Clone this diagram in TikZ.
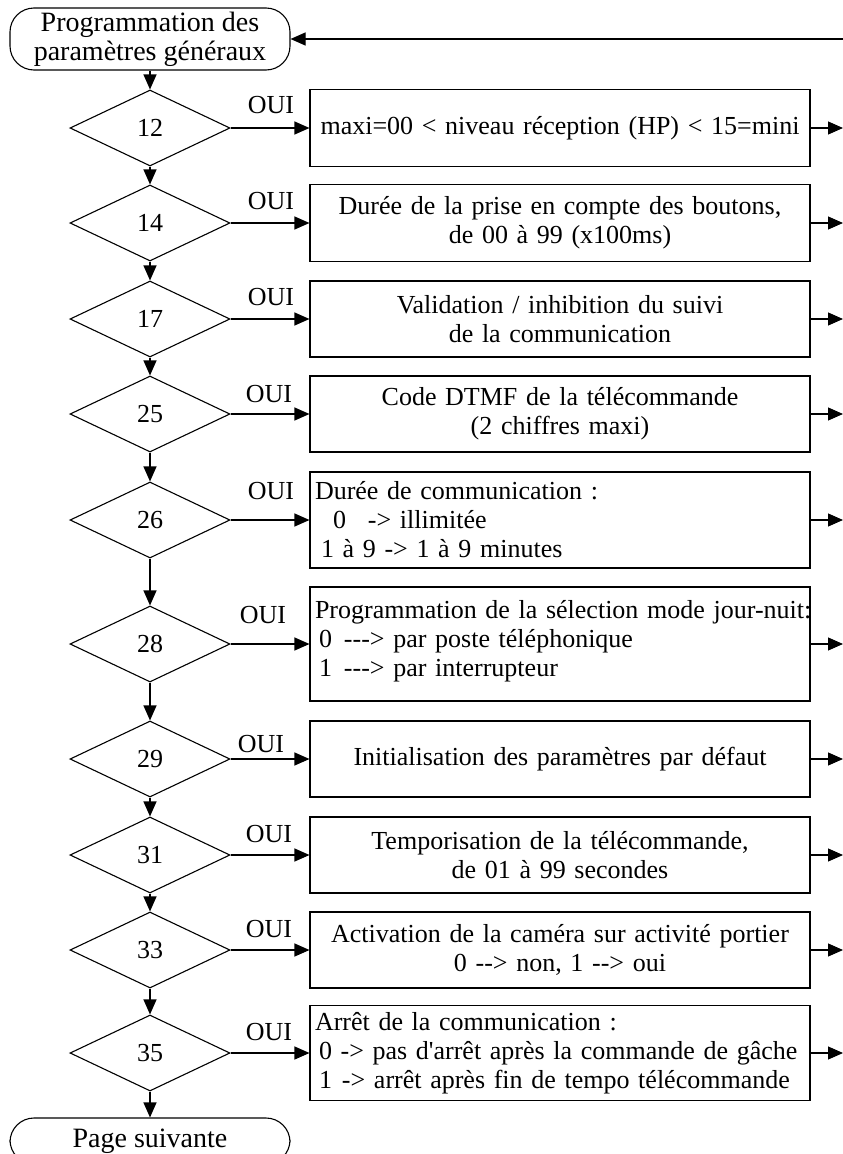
\documentclass[tikz,border=0pt]{standalone}
\usepackage{fontspec}
\setmainfont{Liberation Serif}[Ligatures=TeXOff]
\usetikzlibrary{arrows.meta,shapes.geometric}

\begin{document}
\begin{tikzpicture}[x=1pt,y=-1pt,line width=1.1pt,
  font=\fontsize{26}{29}\selectfont,
  decision/.style={draw,diamond,minimum width=160pt,minimum height=76pt,inner sep=0pt},
  action/.style={draw,rectangle,minimum width=500pt,text width=490pt,inner xsep=5pt,inner ysep=0pt},
  terminal/.style={draw,rectangle,rounded corners=24pt,minimum width=280pt,align=center,inner sep=0pt,
    font=\fontsize{28}{29}\selectfont},
  oui/.style={anchor=base,font=\fontsize{26}{29}\selectfont},
  arr/.style={-{Triangle[length=15pt,width=13pt]}}]
\useasboundingbox (0,0) rectangle (843,1154);
\coordinate (redge) at (843,0);

% Start and end
\node[terminal,minimum height=62pt] (start) at (150,39) {Programmation des\\paramètres généraux};
\node[terminal,minimum height=46pt] (next) at (150,1141) {Page suivante};

% Decisions with their OUI labels
\foreach \n/\y/\ox/\ob in {12/128/271/113,14/223/271/209,17/319/271/305,25/414/269/402,26/520/271/499,
  28/644/263/623,29/759/261/752,31/855/269/842,33/950/269/937,35/1053/269/1040} {
  \node[decision] (d\n) at (150,\y) {\n};
  \node[oui] (oui\n) at (\ox,\ob) {OUI};
}

% Actions
\node[action,align=center,minimum height=77pt] (b12) at (560,128) {maxi=00 < niveau réception (HP) < 15=mini};
\node[action,align=center,minimum height=77pt] (b14) at (560,223) {Durée de la prise en compte des boutons,\\de 00 à 99 (x100ms)};
\node[action,align=center,minimum height=76pt] (b17) at (560,319) {Validation / inhibition du suivi\\de la communication};
\node[action,align=center,minimum height=76pt] (b25) at (560,414) {Code DTMF de la télécommande\\(2 chiffres maxi)};
\node[action,align=left,minimum height=96pt] (b26) at (560,520) {Durée de communication :\\
  \hspace*{18pt}0\hspace*{22pt}-> illimitée\\
  \hspace*{6pt}1 à 9 -> 1 à 9 minutes};
\node[action,align=left,minimum height=114pt] (b28) at (560,644) {\mbox{Programmation de la sélection mode jour-nuit:}\\
  \hspace*{4pt}0\hspace*{12pt}---> par poste téléphonique\\
  \hspace*{4pt}1\hspace*{12pt}---> par interrupteur\\[-17pt]\mbox{}};
\node[action,align=center,minimum height=76pt] (b29) at (560,759) {Initialisation des paramètres par défaut};
\node[action,align=center,minimum height=76pt] (b31) at (560,855) {Temporisation de la télécommande,\\de 01 à 99 secondes};
\node[action,align=center,minimum height=76pt] (b33) at (560,950) {Activation de la caméra sur activité portier\\0 --> non, 1 --> oui};
\node[action,align=left,minimum height=95pt] (b35) at (560,1053) {Arrêt de la communication :\\
  \hspace*{4pt}0 -> pas d'arrêt après la commande de gâche\\
  \hspace*{4pt}1\hspace*{10pt}-> arrêt après fin de tempo télécommande};

% Flow
\draw[arr] (start) -- (d12);
\foreach \a/\b in {12/14,14/17,17/25,25/26,26/28,28/29,29/31,31/33,33/35} {
  \draw[arr] (d\a) -- (d\b);
}
\draw[arr] (d35) -- (next);
\foreach \n in {12,14,17,25,26,28,29,31,33,35} {
  \draw[arr] (d\n.east) -- (b\n.west);
  \draw[arr] (b\n.east) -- (b\n.east -| redge);
}
\draw[arr] (start.east -| redge) -- (start.east);
\end{tikzpicture}
\end{document}
